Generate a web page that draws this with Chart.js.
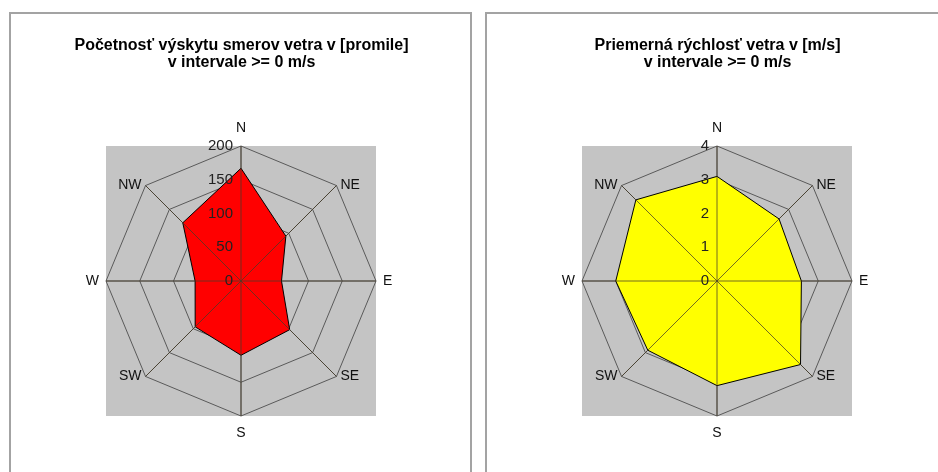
<!DOCTYPE html>
<html>
<head>
<meta charset="utf-8">
<script src="https://cdn.jsdelivr.net/npm/chart.js@4/dist/chart.umd.min.js"></script>
<style>
  html, body { margin: 0; padding: 0; background: #fff; width: 938px; height: 472px; overflow: hidden; }
  .panel { position: absolute; top: 12px; width: 463px; height: 480px; box-sizing: border-box; border: 2px solid #a3a3a3; background: #fff; }
  .panel canvas { position: absolute; left: 0; top: 0; }
</style>
</head>
<body>
<div class="panel" style="left:9px"><canvas id="c1" width="459" height="458"></canvas></div>
<div class="panel" style="left:485px"><canvas id="c2" width="459" height="458"></canvas></div>
<script>
// ---- data ----
const directions = ['N', 'NE', 'E', 'SE', 'S', 'SW', 'W', 'NW'];
const frequencyPermille = [167, 94, 60, 102, 110, 96, 68, 122];
const meanSpeed = [3.1, 2.6, 2.5, 3.5, 3.1, 2.9, 3.0, 3.4];
const freqTicks = { min: 0, max: 200, step: 50 };
const speedTicks = { min: 0, max: 4, step: 1 };
const title1 = ['Početnosť výskytu smerov vetra v [promile]', 'v intervale >= 0 m/s'];
const title2 = ['Priemerná rýchlosť vetra v [m/s]', 'v intervale >= 0 m/s'];

const FONT = '"Liberation Sans", Arial, sans-serif';

const roseDecor = {
  id: 'roseDecor',
  beforeDraw(chart) {
    const s = chart.scales.r, ctx = chart.ctx, R = s.drawingArea;
    ctx.save();
    ctx.fillStyle = '#c4c4c4';
    ctx.fillRect(s.xCenter - R, s.yCenter - R, 2 * R, 2 * R);
    ctx.restore();
  },
  afterDatasetsDraw(chart) {
    const s = chart.scales.r, ctx = chart.ctx, R = s.drawingArea;
    const n = chart.data.labels.length;
    ctx.save();
    // spokes on top of the fill
    ctx.strokeStyle = 'rgba(70,60,40,0.75)';
    ctx.lineWidth = 1;
    for (let i = 0; i < n; i++) {
      const p = s.getPointPositionForValue(i, s.max);
      ctx.beginPath();
      ctx.moveTo(s.xCenter, s.yCenter);
      ctx.lineTo(p.x, p.y);
      ctx.stroke();
    }
    // tick labels, right-aligned next to the N axis
    ctx.fillStyle = '#222';
    ctx.font = '15px ' + FONT;
    ctx.textAlign = 'right';
    ctx.textBaseline = 'middle';
    s.ticks.forEach(t => {
      const d = s.getDistanceFromCenterForValue(t.value);
      ctx.fillText(t.label, s.xCenter - 8, s.yCenter - d);
    });
    // compass point labels
    ctx.font = '14px ' + FONT;
    ctx.fillStyle = '#111';
    for (let i = 0; i < n; i++) {
      const p = s.getPointPosition(i, R);
      const dx = p.x - s.xCenter, dy = p.y - s.yCenter;
      let x = p.x, y = p.y;
      if (Math.abs(dx) < 1) {
        ctx.textAlign = 'center';
        y += dy < 0 ? -18 : 17;
      } else {
        ctx.textAlign = dx > 0 ? 'left' : 'right';
        x += (dx > 0 ? 1 : -1) * (Math.abs(dy) < 1 ? 7 : 4);
      }
      ctx.fillText(chart.data.labels[i], x, y);
    }
    ctx.restore();
  }
};

function makeRose(id, values, fill, tk, titleLines) {
  return new Chart(document.getElementById(id), {
    type: 'radar',
    data: {
      labels: directions,
      datasets: [{
        data: values,
        backgroundColor: fill,
        borderColor: '#000',
        borderWidth: 1,
        pointRadius: 0,
        pointHoverRadius: 0,
        fill: true,
        tension: 0
      }]
    },
    options: {
      responsive: false,
      animation: false,
      devicePixelRatio: 1,
      layout: { padding: { left: 2, right: 0, top: 0, bottom: 55 } },
      plugins: {
        legend: { display: false },
        tooltip: { enabled: false },
        title: {
          display: true,
          text: titleLines,
          color: '#000',
          font: { family: FONT, size: 16, weight: 'bold', lineHeight: 1.06 },
          padding: { top: 23, bottom: 75.6 }
        }
      },
      scales: {
        r: {
          min: tk.min,
          max: tk.max,
          ticks: { stepSize: tk.step, display: false },
          grid: { color: '#5a5a5a', lineWidth: 1 },
          angleLines: { color: '#5a5a5a', lineWidth: 1 },
          pointLabels: { display: false }
        }
      }
    },
    plugins: [roseDecor]
  });
}

makeRose('c1', frequencyPermille, '#ff0000', freqTicks, title1);
makeRose('c2', meanSpeed, '#ffff00', speedTicks, title2);
</script>
</body>
</html>
